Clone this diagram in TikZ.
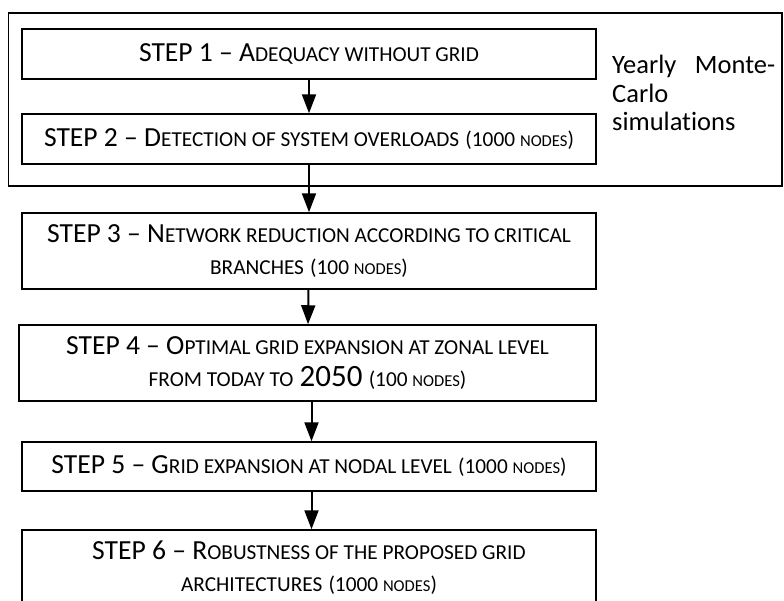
\documentclass[tikz,border=0pt]{standalone}
\usepackage{fontspec}
\setmainfont{Carlito}[Ligatures=NoCommon]
\usetikzlibrary{arrows.meta}

% hand-made small capitals: capitals set at a reduced size
\newcommand\smc[1]{{\fontsize{21.3}{32}\selectfont #1}}
% the node counts in brackets, set smaller still
\newcommand\nodecount[1]{{\fontsize{21.3}{32}\selectfont (#1 {\fontsize{16.6}{32}\selectfont NODES})}}

\tikzset{
  stepbox/.style={draw=black, line width=1.5pt, rectangle, inner sep=0pt,
    align=center, font=\fontsize{27.6}{32}\selectfont},
  outerbox/.style={draw=black, line width=1.4pt, rectangle, inner sep=0pt},
  flow/.style={line width=2pt, -{Triangle[width=14pt,length=19pt]}},
  note/.style={inner sep=0pt, text width=163pt, align=left,
    font=\fontsize{26.5}{28.5}\selectfont}
}

\begin{document}
\begin{tikzpicture}[x=1pt,y=-1pt]
\useasboundingbox (0,0) rectangle (784,600);

% frame around the yearly Monte-Carlo part
\node[outerbox, minimum width=773.5pt, minimum height=173pt] (mc) at (395.25,99.5) {};

\node[stepbox, minimum width=574pt, minimum height=50pt] (s1) at (309,54)
  {STEP 1 – A\smc{DEQUACY WITHOUT GRID}};
\node[stepbox, minimum width=574pt, minimum height=50pt] (s2) at (309,139)
  {STEP 2 – D\smc{ETECTION OF SYSTEM OVERLOADS} \nodecount{1000}};
\node[stepbox, minimum width=574pt, minimum height=76pt] (s3) at (309,251)
  {STEP 3 – N\smc{ETWORK REDUCTION ACCORDING TO CRITICAL}\\
   \smc{BRANCHES} \nodecount{100}};
\node[stepbox, minimum width=577pt, minimum height=76pt] (s4) at (307.5,363)
  {STEP 4 – O\smc{PTIMAL GRID EXPANSION AT ZONAL LEVEL}\\
   \smc{FROM TODAY TO} {\fontsize{31}{32}\selectfont 2050} \nodecount{100}};
\node[stepbox, minimum width=574pt, minimum height=49pt] (s5) at (309,466.5)
  {STEP 5 – G\smc{RID EXPANSION AT NODAL LEVEL} \nodecount{1000}};
\node[stepbox, minimum width=574pt, minimum height=76pt] (s6) at (309,568)
  {STEP 6 – R\smc{OBUSTNESS OF THE PROPOSED GRID}\\
   \smc{ARCHITECTURES} \nodecount{1000}};

\node[note, anchor=north west] (mclabel) at (612,55)
  {Yearly\hfill Monte-\\Carlo\\simulations};

% flow between the steps
\draw[flow] (s1) -- (s2);
\draw[flow] (s2) -- (s3);
\draw[flow] (s3) -- (s4);
\draw[flow] ([xshift=4pt]s4.south) -- ([xshift=2.5pt]s5.north);
\draw[flow] ([xshift=2.5pt]s5.south) -- ([xshift=2.5pt]s6.north);
\end{tikzpicture}
\end{document}
